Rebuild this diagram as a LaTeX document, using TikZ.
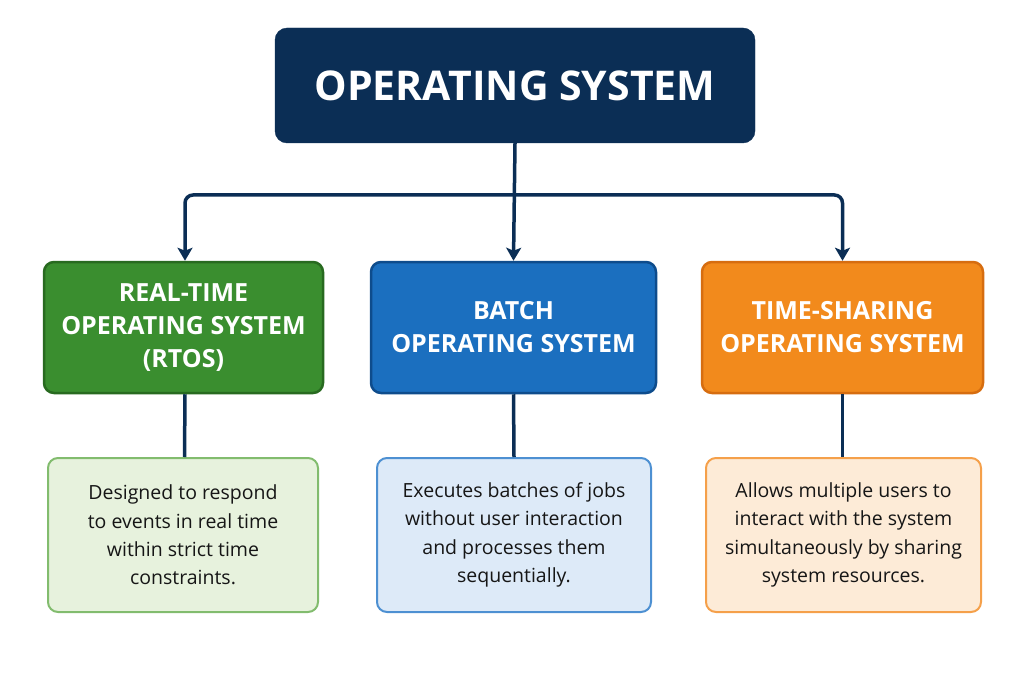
\documentclass[tikz,border=0pt]{standalone}
\usepackage{fontspec}
\setmainfont{Open Sans}
\usetikzlibrary{arrows.meta,positioning}
\definecolor{navy}{HTML}{0B2E55}
\definecolor{gfill}{HTML}{3A8E2F}\definecolor{gdraw}{HTML}{286A20}
\definecolor{bfill}{HTML}{1B6FBF}\definecolor{bdraw}{HTML}{0E4C8C}
\definecolor{ofill}{HTML}{F28A1C}\definecolor{odraw}{HTML}{D66D10}
\definecolor{glight}{HTML}{E7F2DD}\definecolor{gline}{HTML}{82BC6E}
\definecolor{blight}{HTML}{DDEAF8}\definecolor{bline}{HTML}{4D90D2}
\definecolor{olight}{HTML}{FDEBD7}\definecolor{oline}{HTML}{F5A04A}
\definecolor{txt}{HTML}{161616}
\begin{document}
\begin{tikzpicture}[x=1pt,y=1pt,
  titlebox/.style={fill=navy,draw=navy,rounded corners=12pt,minimum width=480pt,minimum height=115pt,
    text=white,font=\fontsize{41}{46}\selectfont\bfseries},
  catbox/.style={rounded corners=10pt,line width=2.5pt,minimum height=131pt,text=white,align=center,
    font=\fontsize{25}{33}\selectfont\bfseries},
  descbox/.style={rounded corners=10pt,line width=2pt,minimum height=154pt,text=txt,align=center,
    font=\fontsize{19.5}{28.3}\selectfont},
  conn/.style={draw=navy,line width=3.5pt},
  arr/.style={conn,-{Stealth[length=13pt,width=15pt,inset=3pt]}}]
\useasboundingbox (0,0) rectangle (1030,-687);
\node[titlebox] (os) at (515,-85.5) {OPERATING SYSTEM};
\node[catbox,fill=gfill,draw=gdraw,minimum width=279pt] (rt) at (183.5,-327.5) {REAL-TIME\\OPERATING SYSTEM\\(RTOS)};
\node[catbox,fill=bfill,draw=bdraw,minimum width=285pt] (bt) at (513.5,-327.5) {BATCH\\OPERATING SYSTEM};
\node[catbox,fill=ofill,draw=odraw,minimum width=281pt] (ts) at (842.5,-327.5) {TIME-SHARING\\OPERATING SYSTEM};
\node[descbox,fill=glight,draw=gline,minimum width=270pt] (rtd) at (183,-535) {Designed to respond\\to events in real time\\within strict time\\constraints.};
\node[descbox,fill=blight,draw=bline,minimum width=274pt] (btd) at (514,-535) {Executes batches of jobs\\without user interaction\\and processes them\\sequentially.};
\node[descbox,fill=olight,draw=oline,minimum width=275pt] (tsd) at (843.5,-535) {Allows multiple users to\\interact with the system\\simultaneously by sharing\\system resources.};
\coordinate (j) at (515,-195);
\draw[arr] (os.south) -- (bt.north);
\draw[arr,rounded corners=8pt] (j) -| ([xshift=1.5pt]rt.north);
\draw[arr,rounded corners=8pt] (j) -| (ts.north);
\draw[conn] ([xshift=1.5pt]rt.south) -- ([xshift=1.5pt]rtd.north);
\draw[conn] (bt.south) -- (btd.north);
\draw[conn] (ts.south) -- ([xshift=-1pt]tsd.north);
\end{tikzpicture}
\end{document}
